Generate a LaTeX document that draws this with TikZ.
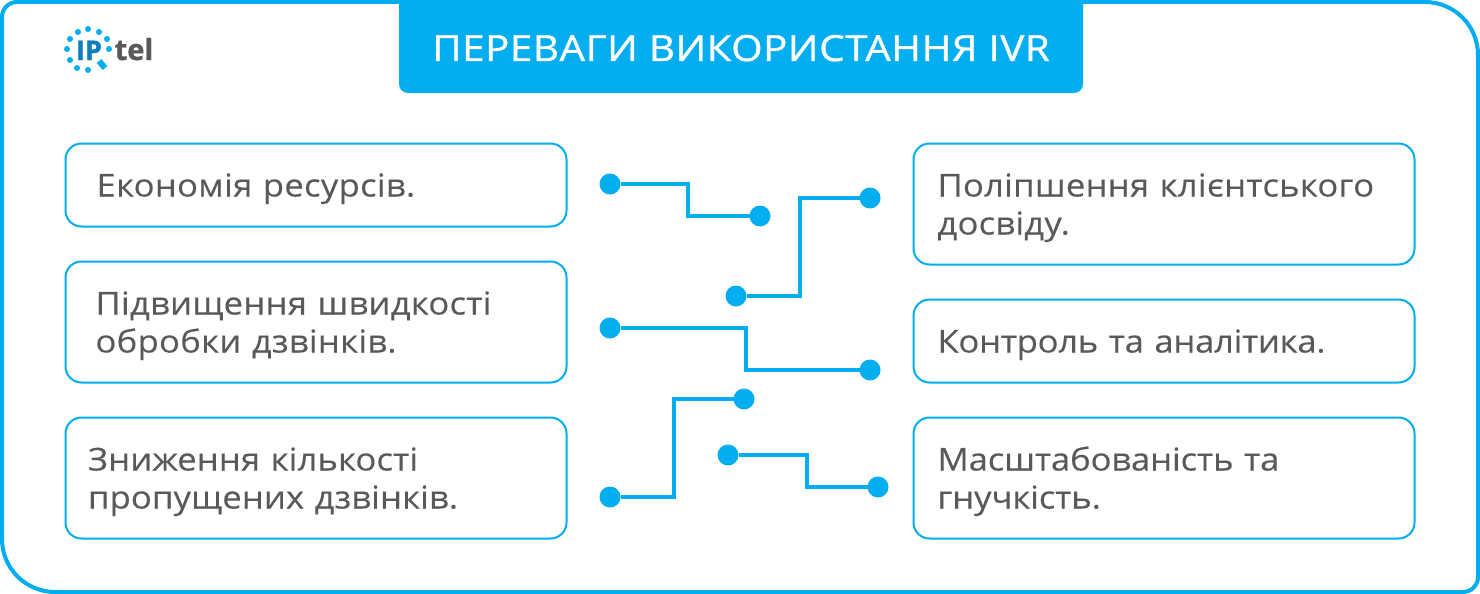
\documentclass[tikz,border=0pt]{standalone}
\usepackage{fontspec}
\setmainfont[FakeStretch=1.1,LetterSpace=0.8,FakeBold=0.15]{Open Sans}
\newfontfamily\titlefont[FakeStretch=1.12,LetterSpace=1.5,FakeBold=0.9]{Open Sans}
\newfontfamily\logofont[BoldFeatures={FakeBold=1}]{Open Sans}
\definecolor{brand}{HTML}{02AEF0}
\definecolor{ink}{HTML}{595959}
\definecolor{logoblue}{HTML}{0A7FBF}
\tikzset{
  x=1pt,y=-1pt,
  card/.style={draw=brand,line width=2pt,rounded corners=16pt,fill=white,minimum width=501pt,text=ink,align=left,
    font=\fontsize{31.5}{38}\selectfont,anchor=north west,inner ysep=0pt,outer sep=0pt,
    execute at begin node={\rule{0pt}{31pt}},execute at end node={\rule[-8pt]{0pt}{8pt}}},
  track/.style={font={\fontsize{31.5}{38}\selectfont\addfontfeature{LetterSpace=#1}}},
  h84/.style={minimum height=83pt},
  h122/.style={minimum height=121pt},
  pad/.style={inner xsep=#1pt,text width={501pt-2*#1pt}},
  pin/.style={circle,fill=brand,inner sep=0pt,outer sep=0pt,minimum size=21pt},
  wire/.style={draw=brand,line width=4pt},
  logodot/.style={fill=brand,draw=none}
}
\begin{document}
\begin{tikzpicture}
\useasboundingbox (0,0) rectangle (1480,594);
\fill[white] (0,0) rectangle (1480,594);
% frame
\draw[brand,line width=4pt,line join=round] (2,300) [rounded corners=15pt] -- (2,2) [rounded corners=53pt] -- (1478,2) [rounded corners=15pt] -- (1478,592) [rounded corners=53pt] -- (2,592) [sharp corners] -- cycle;
% title
\fill[brand,rounded corners=9pt] (399,-20) rectangle (1083,93);
\node[text=white,font=\titlefont\fontsize{36}{40}\selectfont,anchor=base] (title) at (741,61) {ПЕРЕВАГИ ВИКОРИСТАННЯ IVR};
% logo
\foreach \px/\py in {88/29,99/32,107/39,109/49,67/49,70/39,78/32,70/60,77/68,88/70}
  \fill[logodot] (\px,\py) circle[radius=3];
\draw[brand,line width=6pt] (99,61) -- (105,68);
\node[text=logoblue,font=\logofont\bfseries\fontsize{27}{27}\selectfont,anchor=base,inner sep=0pt] (logoip) at (89,60) {IP};
\node[text=ink,font=\logofont\bfseries\fontsize{29}{29}\selectfont,anchor=base,inner sep=0pt] (logotel) at (134,60) {tel};
% cards
\node[card,h84,pad=31,track=0.9] (a) at (65.5,143.5) {Економія ресурсів.};
\node[card,h122,pad=30] (b) at (65.5,261.5) {Підвищення швидкості\\обробки дзвінків.};
\node[card,h122,pad=22.5,track=0.3] (c) at (65.5,417.5) {Зниження кількості\\пропущених дзвінків.};
\node[card,h122,pad=24,track=0.7] (d) at (913.5,143.5) {Поліпшення клієнтського\\досвіду.};
\node[card,h84,pad=24,track=-0.9] (e) at (913.5,299.5) {Контроль та аналітика.};
\node[card,h122,pad=24,track=-0.4] (f) at (913.5,417.5) {Масштабованість та\\гнучкість.};
% pins
\node[pin] (p1a) at (610,184) {}; \node[pin] (p1b) at (760,216) {};
\node[pin] (p2a) at (870,198) {}; \node[pin] (p2b) at (736,296) {};
\node[pin] (p3a) at (610,328) {}; \node[pin] (p3b) at (870,370) {};
\node[pin] (p4a) at (744,399) {}; \node[pin] (p4b) at (610,497) {};
\node[pin] (p5a) at (728,455) {}; \node[pin] (p5b) at (878,487) {};
% wires
\draw[wire] (p1a) -- (688,184) -- (688,216) -- (p1b);
\draw[wire] (p2a) -- (800,198) -- (800,296) -- (p2b);
\draw[wire] (p3a) -- (746,328) -- (746,370) -- (p3b);
\draw[wire] (p4a) -- (674,399) -- (674,497) -- (p4b);
\draw[wire] (p5a) -- (807,455) -- (807,487) -- (p5b);
\end{tikzpicture}
\end{document}
